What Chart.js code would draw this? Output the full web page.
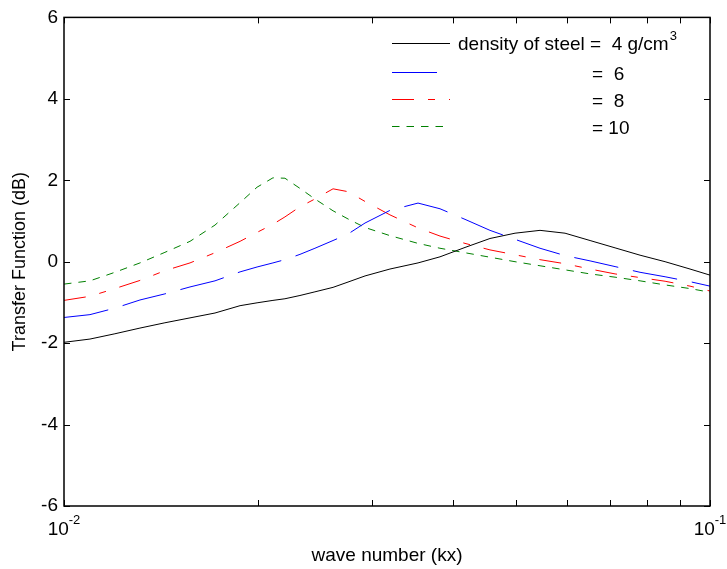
<!DOCTYPE html>
<html>
<head>
<meta charset="utf-8">
<script src="https://cdn.jsdelivr.net/npm/chart.js@4.4.1/dist/chart.umd.min.js"></script>
<style>
  html, body { margin: 0; padding: 0; background: #fff; }
  #wrap { width: 727px; height: 569px; }
</style>
</head>
<body>
<div id="wrap"><canvas id="transferChart"></canvas></div>
<script>
// wave number grid (kx) and transfer function (dB) for each steel density
const kx = [0.01, 0.01097, 0.01199, 0.01311, 0.01433, 0.01567, 0.01713, 0.01873, 0.0199, 0.02106,
            0.02198, 0.02319, 0.02446, 0.02609, 0.02752, 0.02924, 0.03196, 0.03532, 0.0382, 0.04176,
            0.04565, 0.04991, 0.05456, 0.05965, 0.06521, 0.07129, 0.07793, 0.0852, 0.09312, 0.1];
const rho4 = [-1.98, -1.90, -1.77, -1.63, -1.50, -1.38, -1.26, -1.08, -1.01, -0.95,
              -0.91, -0.83, -0.74, -0.63, -0.50, -0.35, -0.18, -0.03, 0.12, 0.35,
              0.57, 0.70, 0.77, 0.70, 0.52, 0.34, 0.16, 0.00, -0.18, -0.33];
const rho6 = [-1.37, -1.30, -1.14, -0.94, -0.79, -0.62, -0.47, -0.25, -0.13, -0.03,
              0.05, 0.18, 0.33, 0.52, 0.68, 0.95, 1.26, 1.44, 1.30, 1.04,
              0.77, 0.55, 0.33, 0.15, 0.02, -0.12, -0.26, -0.37, -0.49, -0.60];
const rho8 = [-0.95, -0.85, -0.66, -0.46, -0.22, -0.03, 0.22, 0.50, 0.72, 0.92,
              1.10, 1.35, 1.54, 1.79, 1.72, 1.48, 1.15, 0.83, 0.63, 0.45,
              0.29, 0.17, 0.05, -0.05, -0.18, -0.30, -0.39, -0.48, -0.60, -0.72];
const rho10 = [-0.55, -0.47, -0.26, -0.03, 0.23, 0.50, 0.90, 1.45, 1.83, 2.06,
               2.05, 1.80, 1.54, 1.25, 1.05, 0.84, 0.64, 0.45, 0.33, 0.22,
               0.11, 0.00, -0.10, -0.20, -0.30, -0.38, -0.47, -0.57, -0.66, -0.75];

const legendLabels = ['density of steel', '=  6', '=  8', '= 10'];
const xTickValues = [0.01, 0.02, 0.03, 0.04, 0.05, 0.06, 0.07, 0.08, 0.09, 0.1];
const xTickLabels = [{ v: 0.01, base: '10', exp: '-2' }, { v: 0.1, base: '10', exp: '-1' }];
const yTickValues = [-6, -4, -2, 0, 2, 4, 6];

const FONT = '"Liberation Sans", Arial, sans-serif';

function toPoints(ys) {
    return kx.map((k, i) => ({ x: k, y: ys[i] }));
}

// box, inward ticks, x labels with exponents and the legend
const framePlugin = {
    id: 'frame',
    afterDraw(chart) {
        const ctx = chart.ctx;
        const area = chart.chartArea;
        const xs = chart.scales.x;
        const ys = chart.scales.y;
        ctx.save();
        ctx.strokeStyle = '#000';
        ctx.lineWidth = 1.5;
        ctx.strokeRect(area.left, area.top, area.right - area.left, area.bottom - area.top);

        ctx.lineWidth = 1;
        ctx.beginPath();
        yTickValues.forEach(v => {
            const py = Math.round(ys.getPixelForValue(v)) + 0.5;
            ctx.moveTo(area.left, py); ctx.lineTo(area.left + 6, py);
            ctx.moveTo(area.right, py); ctx.lineTo(area.right - 6, py);
        });
        xTickValues.forEach(v => {
            const px = Math.round(xs.getPixelForValue(v)) + 0.5;
            ctx.moveTo(px, area.bottom); ctx.lineTo(px, area.bottom - 6);
            ctx.moveTo(px, area.top); ctx.lineTo(px, area.top + 6);
        });
        ctx.stroke();

        // x tick labels 10^-2, 10^-1
        ctx.fillStyle = '#000';
        ctx.textBaseline = 'alphabetic';
        ctx.textAlign = 'left';
        xTickLabels.forEach(t => {
            const px = xs.getPixelForValue(t.v);
            ctx.font = '19px ' + FONT;
            const wb = ctx.measureText(t.base).width;
            ctx.font = '13px ' + FONT;
            const we = ctx.measureText(t.exp).width;
            const x0 = px - (wb + we) / 2;
            ctx.font = '19px ' + FONT;
            ctx.fillText(t.base, x0, 535);
            ctx.font = '13px ' + FONT;
            ctx.fillText(t.exp, x0 + wb, 524);
        });

        // legend
        const rows = [43.5, 72.5, 99.5, 126.5];
        chart.data.datasets.forEach((ds, i) => {
            ctx.strokeStyle = ds.borderColor;
            ctx.lineWidth = 1;
            ctx.setLineDash(ds.borderDash || []);
            ctx.beginPath();
            ctx.moveTo(392, rows[i]);
            ctx.lineTo(450, rows[i]);
            ctx.stroke();
        });
        ctx.setLineDash([]);
        ctx.font = '19px ' + FONT;
        ctx.fillStyle = '#000';
        ctx.fillText(legendLabels[0], 458, 50);
        ctx.fillText('=  4 g/cm', 590, 50);
        const w = ctx.measureText('=  4 g/cm').width;
        ctx.font = '13px ' + FONT;
        ctx.fillText('3', 590 + w + 1, 40);
        ctx.font = '19px ' + FONT;
        for (let i = 1; i < 4; i++) {
            ctx.fillText(legendLabels[i], 592, rows[i] + 7);
        }
        ctx.restore();
    }
};

const ctx = document.getElementById('transferChart').getContext('2d');
const chart = new Chart(ctx, {
    type: 'line',
    data: {
        datasets: [
            { label: '4', data: toPoints(rho4), borderColor: '#000000', borderWidth: 1, borderDash: [] },
            { label: '6', data: toPoints(rho6), borderColor: '#0000ff', borderWidth: 1, borderDash: [45, 15] },
            { label: '8', data: toPoints(rho8), borderColor: '#ff0000', borderWidth: 1, borderDash: [22, 14, 7, 14] },
            { label: '10', data: toPoints(rho10), borderColor: '#008000', borderWidth: 1, borderDash: [7.5, 7] }
        ]
    },
    options: {
        responsive: true,
        maintainAspectRatio: false,
        animation: false,
        devicePixelRatio: 1,
        layout: { padding: { top: 14, right: 17, left: 0, bottom: 0 } },
        elements: { point: { radius: 0 }, line: { tension: 0, fill: false } },
        plugins: { legend: { display: false }, tooltip: { enabled: false } },
        scales: {
            x: {
                type: 'logarithmic',
                min: 0.01,
                max: 0.1,
                grid: { display: false },
                border: { display: false },
                ticks: { display: false },
                title: {
                    display: true,
                    text: 'wave number (kx)',
                    color: '#000',
                    font: { size: 19, family: FONT },
                    padding: { top: 0, bottom: 2 }
                },
                afterFit(scale) { scale.height = 63; }
            },
            y: {
                min: -6,
                max: 6,
                grid: { display: false, drawTicks: false },
                border: { display: false },
                ticks: {
                    stepSize: 2,
                    color: '#000',
                    padding: 6,
                    font: { size: 19, family: FONT }
                },
                title: {
                    display: true,
                    text: 'Transfer Function (dB)',
                    color: '#000',
                    font: { size: 18, family: FONT },
                    padding: { top: 9, bottom: 0 }
                },
                afterFit(scale) { scale.width = 64; }
            }
        }
    },
    plugins: [framePlugin]
});
</script>
</body>
</html>
